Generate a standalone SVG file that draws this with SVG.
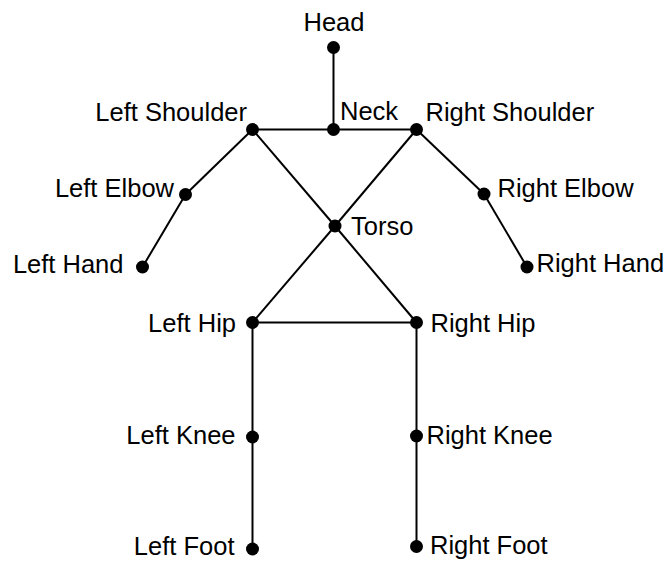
<svg xmlns="http://www.w3.org/2000/svg" width="666" height="561" viewBox="0 0 666 561">
<style>
.e{stroke:#000;stroke-width:2;fill:none}
.d{fill:#000}
text{font-family:"Liberation Sans",Arial,sans-serif;font-size:25.5px;fill:#000}
.s{text-anchor:start}.n{text-anchor:end}.m{text-anchor:middle}
</style>
<rect width="666" height="561" fill="#fff"/>
<g id="edges">
<line class="e" x1="333.5" y1="47.5" x2="333.5" y2="129.5"/>
<line class="e" x1="252.5" y1="129.5" x2="416.5" y2="129.5"/>
<line class="e" x1="252.5" y1="129.5" x2="185.5" y2="194.5"/>
<line class="e" x1="185.5" y1="194.5" x2="142.5" y2="267"/>
<line class="e" x1="416.5" y1="129.5" x2="484" y2="194"/>
<line class="e" x1="484" y1="194" x2="527" y2="267"/>
<line class="e" x1="252.5" y1="129.5" x2="335" y2="226"/>
<line class="e" x1="416.5" y1="129.5" x2="335" y2="226"/>
<line class="e" x1="335" y1="226" x2="252.5" y2="322.5"/>
<line class="e" x1="335" y1="226" x2="416.5" y2="322.5"/>
<line class="e" x1="252.5" y1="322.5" x2="416.5" y2="322.5"/>
<line class="e" x1="252.5" y1="322.5" x2="252.5" y2="549"/>
<line class="e" x1="416.5" y1="322.5" x2="416.5" y2="546.5"/>
</g>
<g id="head"><circle class="d" cx="333.5" cy="47.5" r="6.5"/><text class="m" x="334" y="31">Head</text></g>
<g id="neck"><circle class="d" cx="333.5" cy="129.5" r="6.5"/><text class="s" x="340" y="120">Neck</text></g>
<g id="left-shoulder"><circle class="d" cx="252.5" cy="129.5" r="6.5"/><text class="n" x="247" y="121">Left Shoulder</text></g>
<g id="right-shoulder"><circle class="d" cx="416.5" cy="129.5" r="6.5"/><text class="s" x="425.5" y="121">Right Shoulder</text></g>
<g id="left-elbow"><circle class="d" cx="185.5" cy="194.5" r="6.5"/><text class="n" x="174" y="197">Left Elbow</text></g>
<g id="right-elbow"><circle class="d" cx="484" cy="194" r="6.5"/><text class="s" x="497.5" y="197">Right Elbow</text></g>
<g id="left-hand"><circle class="d" cx="142.5" cy="267" r="6.5"/><text class="n" x="123.5" y="272.5">Left Hand</text></g>
<g id="right-hand"><circle class="d" cx="527" cy="267" r="6.5"/><text class="s" x="536.5" y="272">Right Hand</text></g>
<g id="torso"><circle class="d" cx="335" cy="226" r="6.5"/><text class="s" x="351" y="234.5">Torso</text></g>
<g id="left-hip"><circle class="d" cx="252.5" cy="322.5" r="6.5"/><text class="n" x="236" y="332">Left Hip</text></g>
<g id="right-hip"><circle class="d" cx="416.5" cy="322.5" r="6.5"/><text class="s" x="430.5" y="332">Right Hip</text></g>
<g id="left-knee"><circle class="d" cx="252.5" cy="437" r="6.5"/><text class="n" x="235.5" y="444">Left Knee</text></g>
<g id="right-knee"><circle class="d" cx="416.5" cy="436" r="6.5"/><text class="s" x="426.5" y="443.5">Right Knee</text></g>
<g id="left-foot"><circle class="d" cx="252.5" cy="549" r="6.5"/><text class="n" x="234.5" y="555">Left Foot</text></g>
<g id="right-foot"><circle class="d" cx="416.5" cy="546.5" r="6.5"/><text class="s" x="430" y="553.5">Right Foot</text></g>
</svg>
